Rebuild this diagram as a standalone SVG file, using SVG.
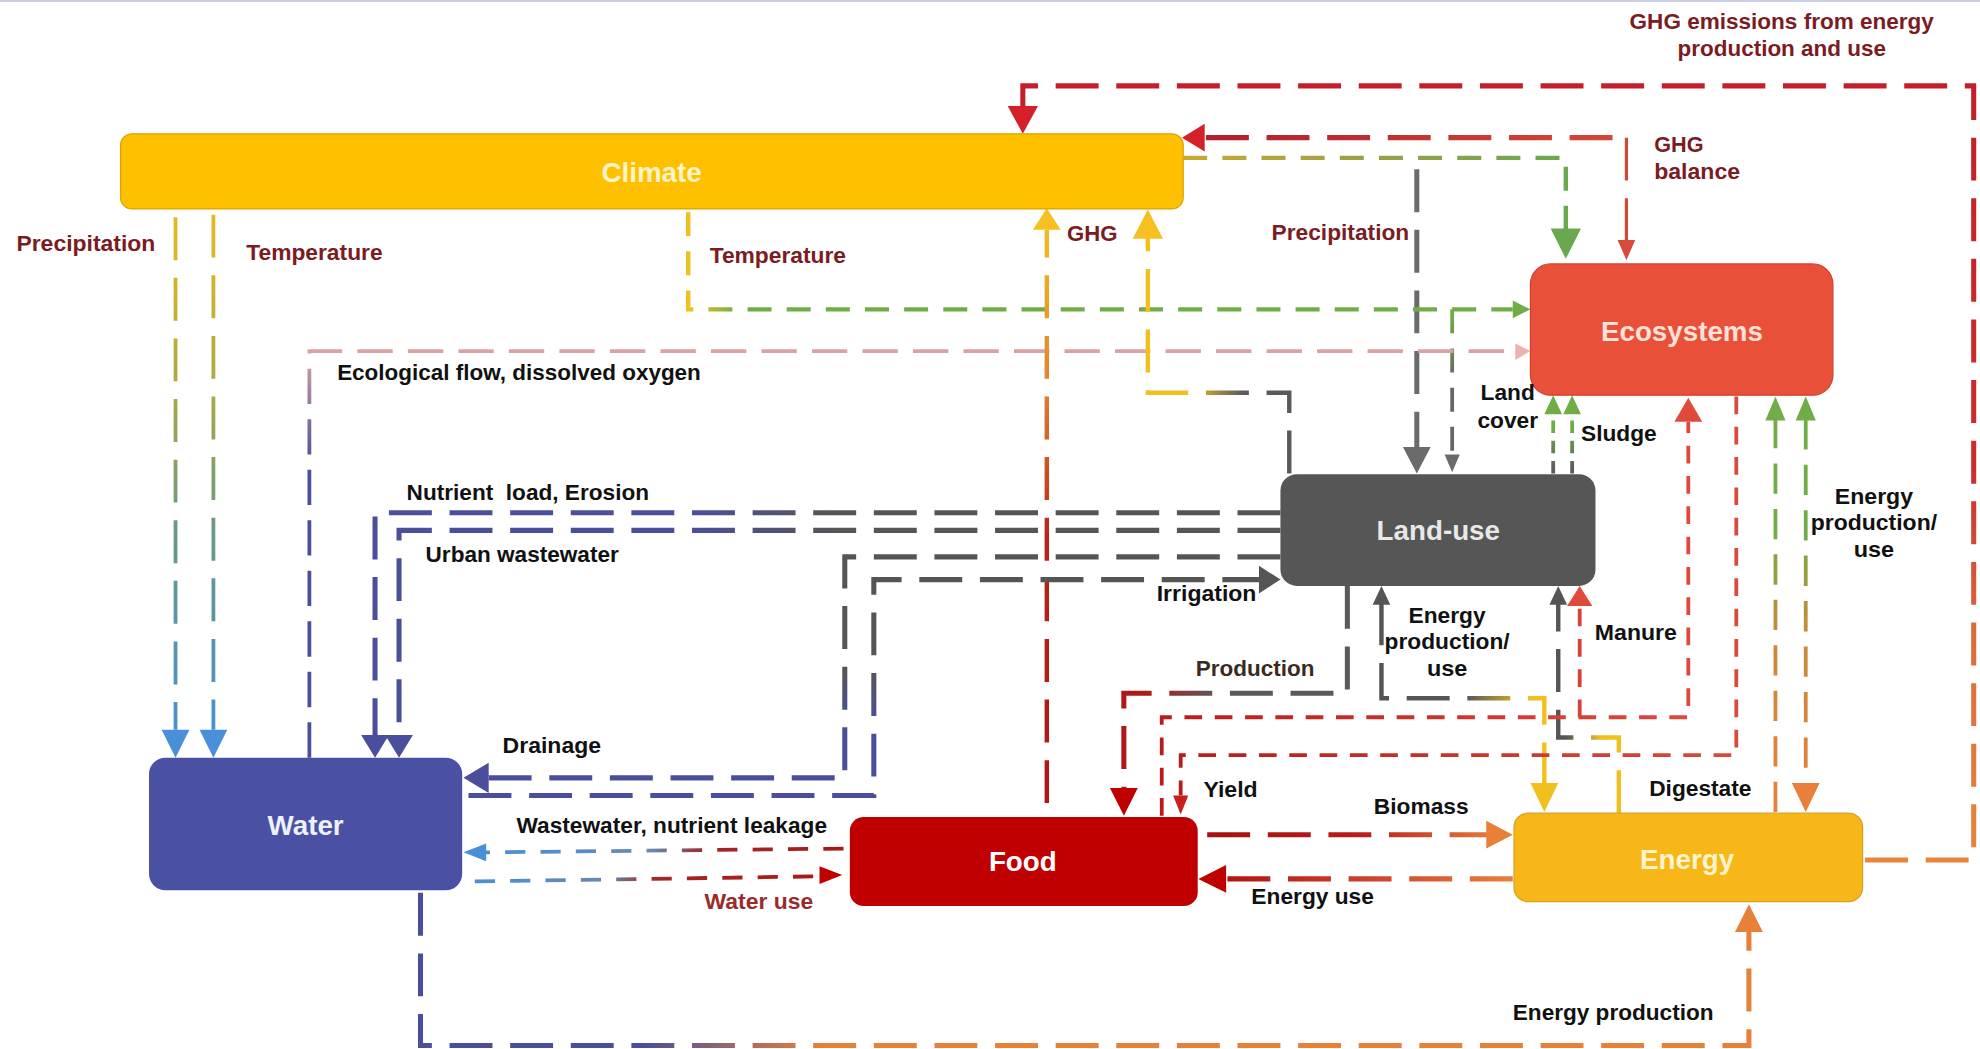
<svg xmlns="http://www.w3.org/2000/svg" width="1980" height="1049" viewBox="0 0 1980 1049">
<style>
.c{fill:none}
.w4{stroke-width:4}.w35{stroke-width:3.5}.w3{stroke-width:3}.w25{stroke-width:2.5}
.d1{stroke-dasharray:34 14}.d2{stroke-dasharray:19 12}.d3{stroke-dasharray:28 12}.d4{stroke-dasharray:10 6}.d5{stroke-dasharray:14 10}.d6{stroke-dasharray:16 12}.d7{stroke-dasharray:24 12}
.l{font-family:"Liberation Sans",Arial,sans-serif;font-weight:bold;font-size:17.5px;fill:#111}
.r{fill:#7b1b22}.br{fill:#3a2a22}.wr{fill:#9b2b2b}
.m{text-anchor:middle}
.n{font-family:"Liberation Sans",Arial,sans-serif;font-weight:bold;font-size:22px;text-anchor:middle}
</style>
<defs>
<linearGradient id="gEmis" gradientUnits="userSpaceOnUse" x1="0" y1="68" x2="0" y2="681"><stop offset="0" stop-color="#c41e2a"/><stop offset=".5" stop-color="#cc2e2e"/><stop offset=".7" stop-color="#dc6a3a"/><stop offset="1" stop-color="#e8853c"/></linearGradient>
<linearGradient id="gBal" gradientUnits="userSpaceOnUse" x1="937" y1="0" x2="1288" y2="0"><stop offset="0" stop-color="#b01c2c"/><stop offset="1" stop-color="#d44838"/></linearGradient>
<linearGradient id="gCE" gradientUnits="userSpaceOnUse" x1="937" y1="0" x2="1240" y2="0"><stop offset="0" stop-color="#c8aa30"/><stop offset=".5" stop-color="#9aa048"/><stop offset="1" stop-color="#6aa84f"/></linearGradient>
<linearGradient id="gTemp" gradientUnits="userSpaceOnUse" x1="545" y1="0" x2="585" y2="0"><stop offset="0" stop-color="#f2c01e"/><stop offset="1" stop-color="#70ad47"/></linearGradient>
<linearGradient id="gBr" gradientUnits="userSpaceOnUse" x1="0" y1="250" x2="0" y2="300"><stop offset="0" stop-color="#70ad47"/><stop offset="1" stop-color="#666"/></linearGradient>
<linearGradient id="gEco" gradientUnits="userSpaceOnUse" x1="0" y1="600" x2="0" y2="278"><stop offset="0" stop-color="#4b4f9b"/><stop offset=".72" stop-color="#4b4f9b"/><stop offset="1" stop-color="#d9a3a3"/></linearGradient>
<linearGradient id="gCW" gradientUnits="userSpaceOnUse" x1="0" y1="170" x2="0" y2="580"><stop offset="0" stop-color="#e8b820"/><stop offset=".35" stop-color="#a8a848"/><stop offset=".6" stop-color="#6a9a80"/><stop offset="1" stop-color="#4a90d0"/></linearGradient>
<linearGradient id="gG1" gradientUnits="userSpaceOnUse" x1="0" y1="636" x2="0" y2="170"><stop offset="0" stop-color="#b01414"/><stop offset=".45" stop-color="#b82418"/><stop offset=".7" stop-color="#e08030"/><stop offset="1" stop-color="#f5c020"/></linearGradient>
<linearGradient id="gG2" gradientUnits="userSpaceOnUse" x1="940" y1="0" x2="985" y2="0"><stop offset="0" stop-color="#f2c01e"/><stop offset="1" stop-color="#5a5a5a"/></linearGradient>
<linearGradient id="gLC" gradientUnits="userSpaceOnUse" x1="0" y1="372" x2="0" y2="340"><stop offset="0" stop-color="#5a5a5a"/><stop offset="1" stop-color="#70ad47"/></linearGradient>
<linearGradient id="gNut" gradientUnits="userSpaceOnUse" x1="550" y1="0" x2="660" y2="0"><stop offset="0" stop-color="#4b4f9b"/><stop offset="1" stop-color="#555"/></linearGradient>
<linearGradient id="gDr" gradientUnits="userSpaceOnUse" x1="0" y1="530" x2="0" y2="570"><stop offset="0" stop-color="#555"/><stop offset="1" stop-color="#4b4f9b"/></linearGradient>
<linearGradient id="gProd" gradientUnits="userSpaceOnUse" x1="905" y1="0" x2="965" y2="0"><stop offset="0" stop-color="#b01818"/><stop offset="1" stop-color="#5a5a5a"/></linearGradient>
<linearGradient id="gEPU" gradientUnits="userSpaceOnUse" x1="1160" y1="0" x2="1212" y2="0"><stop offset="0" stop-color="#555"/><stop offset="1" stop-color="#f2c01e"/></linearGradient>
<linearGradient id="gDig" gradientUnits="userSpaceOnUse" x1="1240" y1="0" x2="1268" y2="0"><stop offset="0" stop-color="#555"/><stop offset="1" stop-color="#f2c01e"/></linearGradient>
<linearGradient id="gMan" gradientUnits="userSpaceOnUse" x1="919" y1="0" x2="1337" y2="0"><stop offset="0" stop-color="#b81c1c"/><stop offset="1" stop-color="#e0483c"/></linearGradient>
<linearGradient id="gYld" gradientUnits="userSpaceOnUse" x1="935" y1="0" x2="1375" y2="0"><stop offset="0" stop-color="#b81c1c"/><stop offset="1" stop-color="#d84a3c"/></linearGradient>
<linearGradient id="gBio" gradientUnits="userSpaceOnUse" x1="960" y1="0" x2="1190" y2="0"><stop offset="0" stop-color="#a81010"/><stop offset=".5" stop-color="#b81c1c"/><stop offset="1" stop-color="#e8803a"/></linearGradient>
<linearGradient id="gEU" gradientUnits="userSpaceOnUse" x1="960" y1="0" x2="1198" y2="0"><stop offset="0" stop-color="#b01010"/><stop offset=".45" stop-color="#c83a2a"/><stop offset="1" stop-color="#e8803a"/></linearGradient>
<linearGradient id="gWW" gradientUnits="userSpaceOnUse" x1="390" y1="0" x2="670" y2="0"><stop offset="0" stop-color="#4a90d0"/><stop offset=".45" stop-color="#6a8ab0"/><stop offset=".6" stop-color="#a02828"/><stop offset="1" stop-color="#a81818"/></linearGradient>
<linearGradient id="gWU" gradientUnits="userSpaceOnUse" x1="380" y1="0" x2="660" y2="0"><stop offset="0" stop-color="#4a90d0"/><stop offset=".35" stop-color="#6a88b0"/><stop offset=".5" stop-color="#a02828"/><stop offset="1" stop-color="#b01414"/></linearGradient>
<linearGradient id="gEP" gradientUnits="userSpaceOnUse" x1="510" y1="0" x2="650" y2="0"><stop offset="0" stop-color="#4b4f9b"/><stop offset="1" stop-color="#e8803a"/></linearGradient>
<linearGradient id="gEE" gradientUnits="userSpaceOnUse" x1="0" y1="330" x2="0" y2="640"><stop offset="0" stop-color="#70ad47"/><stop offset=".3" stop-color="#70ad47"/><stop offset=".55" stop-color="#c88a3a"/><stop offset="1" stop-color="#e8803a"/></linearGradient>
</defs>
<rect x="0" y="0" width="1980" height="1049" fill="#ffffff"/>
<line x1="0" y1="1" x2="1980" y2="1" stroke="#ccd0e6" stroke-width="2"/>
<g transform="scale(1.262755)">
<g id="connectors">
<path class="c w4 d1" stroke="url(#gEmis)" d="M1477,681 H1563 V68 H810 V86"/>
<polygon fill="#d42028" points="798,84 822,84 810,106"/>
<path class="c w4 d1" stroke="url(#gBal)" d="M955,109 H1288"/>
<path class="c w25 d1" stroke="#d44838" d="M1288,109 V192"/>
<polygon fill="#d42028" points="936,109 954,98 954,120"/>
<polygon fill="#d84a3c" points="1281,190 1295,190 1288,206"/>
<path class="c w35 d2" stroke="url(#gCE)" d="M937,125 H1240 V183"/>
<polygon fill="#6aa84f" points="1228,181 1252,181 1240,205"/>
<path class="c w4 d1" stroke="#6b6b6b" d="M1122,134 V354"/>
<polygon fill="#6b6b6b" points="1111,354 1133,354 1122,375"/>
<path class="c w35 d2" stroke="url(#gTemp)" d="M545,168 V245 H1198"/>
<polygon fill="#70ad47" points="1198,238 1198,252 1212,245"/>
<path class="c w3 d2" stroke="url(#gBr)" d="M1150,245 V361"/>
<polygon fill="#6b6b6b" points="1144,360 1156,360 1150,374"/>
<path class="c w3 d3" stroke="url(#gEco)" d="M245,600 V278 H1200"/>
<polygon fill="#f0b0b0" points="1200,272 1200,285 1212,278"/>
<path class="c w3 d1" stroke="url(#gCW)" d="M139,172 V578"/>
<path class="c w3 d1" stroke="url(#gCW)" d="M169,170 V578"/>
<polygon fill="#4a90d9" points="128,578 150,578 139,600"/>
<polygon fill="#4a90d9" points="158,578 180,578 169,600"/>
<path class="c w35 d1" stroke="url(#gG1)" d="M829,636 V182"/>
<polygon fill="#f5c020" points="818,182 840,182 829,165"/>
<path class="c w35 d1" stroke="url(#gG2)" d="M1021,375 V311 H909 V188"/>
<polygon fill="#f5c020" points="897,189 921,189 909,166"/>
<path class="c w3 d4" stroke="url(#gLC)" d="M1230,375 V326"/>
<path class="c w3 d4" stroke="url(#gLC)" d="M1245,375 V326"/>
<polygon fill="#70ad47" points="1223,328 1237,328 1230,313"/>
<polygon fill="#70ad47" points="1238,328 1252,328 1245,313"/>
<path class="c w4 d1" stroke="url(#gNut)" d="M1014,406 H297 V583"/>
<polygon fill="#4b4f9b" points="286,582 308,582 297,600"/>
<path class="c w4 d1" stroke="url(#gNut)" d="M1014,420 H316 V583"/>
<polygon fill="#4b4f9b" points="305,582 327,582 316,600"/>
<path class="c w4 d1" stroke="url(#gDr)" d="M1014,441 H669 V616 H386"/>
<polygon fill="#4b4f9b" points="367,616 387,604 387,628"/>
<path class="c w4 d1" stroke="url(#gDr)" d="M371,630 H692 V459 H998"/>
<polygon fill="#555" points="1014,459 997,448 997,470"/>
<path class="c w4 d1" stroke="url(#gProd)" d="M1067,464 V549 H890 V624"/>
<polygon fill="#c00000" points="879,624 901,624 890,646"/>
<path class="c w35 d1" stroke="url(#gEPU)" d="M1223,622 V553 H1094 V478"/>
<polygon fill="#555" points="1087,479 1101,479 1094,464"/>
<polygon fill="#f2c01e" points="1212,620 1234,620 1223,643"/>
<path class="c w35 d1" stroke="url(#gDig)" d="M1282,644 V584 H1234 V478"/>
<polygon fill="#555" points="1227,479 1241,479 1234,464"/>
<path class="c w3 d5" stroke="url(#gMan)" d="M920,646 V568 H1337 V334"/>
<path class="c w3 d5" stroke="#d8403a" d="M1251,568 V480"/>
<polygon fill="#e04a3a" points="1241,480 1261,480 1251,464"/>
<polygon fill="#e04a3a" points="1326,334 1348,334 1337,315"/>
<path class="c w3 d5" stroke="url(#gYld)" d="M1375,314 V598 H935 V630"/>
<polygon fill="#c81e1e" points="929,630 941,630 935,645"/>
<path class="c w4 d1" stroke="url(#gBio)" d="M956,661 H1178"/>
<polygon fill="#e8803a" points="1198,661 1177,650 1177,672"/>
<path class="c w4 d1" stroke="url(#gEU)" d="M1198,696 H970"/>
<polygon fill="#c00000" points="949,696 971,685 971,707"/>
<path class="c w3 d6" stroke="url(#gWW)" d="M668,672 L384,675"/>
<polygon fill="#4a90d9" points="367,675 385,668 385,682"/>
<path class="c w3 d6" stroke="url(#gWU)" d="M376,698 L650,694"/>
<polygon fill="#c00000" points="667,693 649,686 649,700"/>
<path class="c w4 d1" stroke="url(#gEP)" d="M333,707 V828 H1385 V737"/>
<polygon fill="#e8803a" points="1374,738 1396,738 1385,716"/>
<path class="c w3 d7" stroke="url(#gEE)" d="M1406,643 V332"/>
<path class="c w3 d7" stroke="url(#gEE)" d="M1430,332 V620"/>
<polygon fill="#70ad47" points="1398,333 1414,333 1406,314"/>
<polygon fill="#70ad47" points="1422,333 1438,333 1430,314"/>
<polygon fill="#e8803a" points="1419,620 1441,620 1430,643"/>
</g>
<g id="climate">
<rect x="95.5" y="106" width="841.5" height="59.5" rx="9" fill="#ffc000" stroke="#d9a400" stroke-width="1"/>
<text class="n" x="516" y="144" fill="#fff3c8">Climate</text>
</g>
<g id="ecosystems">
<rect x="1212" y="209" width="239.5" height="104" rx="16" fill="#e8503a" stroke="#d0402e" stroke-width="1"/>
<text class="n" x="1332" y="270" fill="#fde0d8">Ecosystems</text>
</g>
<g id="land-use">
<rect x="1014" y="375.5" width="249.5" height="88.5" rx="13" fill="#565656"/>
<text class="n" x="1139" y="428" fill="#e8e8e8">Land-use</text>
</g>
<g id="water">
<rect x="118" y="600" width="248" height="105" rx="13" fill="#4a51a3"/>
<text class="n" x="242" y="661" fill="#eef0fb">Water</text>
</g>
<g id="food">
<rect x="673" y="647" width="275.5" height="70.5" rx="11" fill="#c00000"/>
<text class="n" x="810" y="690" fill="#ffffff">Food</text>
</g>
<g id="energy">
<rect x="1199" y="644" width="276" height="70" rx="11" fill="#f7b719" stroke="#d9a020" stroke-width="1"/>
<text class="n" x="1336" y="688" fill="#fff4cc">Energy</text>
</g>
<g id="labels">
<text class="l r m" x="1411" y="23" textLength="241" lengthAdjust="spacingAndGlyphs">GHG emissions from energy</text>
<text class="l r m" x="1411" y="44" textLength="165" lengthAdjust="spacingAndGlyphs">production and use</text>
<text class="l r" x="1310" y="120" textLength="39" lengthAdjust="spacingAndGlyphs">GHG</text>
<text class="l r" x="1310" y="142" textLength="68" lengthAdjust="spacingAndGlyphs">balance</text>
<text class="l r" x="13" y="199" textLength="110" lengthAdjust="spacingAndGlyphs">Precipitation</text>
<text class="l r" x="195" y="206" textLength="108" lengthAdjust="spacingAndGlyphs">Temperature</text>
<text class="l r" x="562" y="208" textLength="108" lengthAdjust="spacingAndGlyphs">Temperature</text>
<text class="l r" x="845" y="191" textLength="40" lengthAdjust="spacingAndGlyphs">GHG</text>
<text class="l r" x="1007" y="190" textLength="109" lengthAdjust="spacingAndGlyphs">Precipitation</text>
<text class="l" x="267" y="301" textLength="288" lengthAdjust="spacingAndGlyphs">Ecological flow, dissolved oxygen</text>
<text class="l m" x="1194" y="317" textLength="43" lengthAdjust="spacingAndGlyphs">Land</text>
<text class="l m" x="1194" y="339" textLength="48" lengthAdjust="spacingAndGlyphs">cover</text>
<text class="l" x="1252" y="349" textLength="60" lengthAdjust="spacingAndGlyphs">Sludge</text>
<text class="l" x="322" y="396" textLength="192" lengthAdjust="spacingAndGlyphs" style="white-space:pre">Nutrient  load, Erosion</text>
<text class="l" x="337" y="445" textLength="153" lengthAdjust="spacingAndGlyphs">Urban wastewater</text>
<text class="l" x="916" y="476" textLength="79" lengthAdjust="spacingAndGlyphs">Irrigation</text>
<text class="l m" x="1146" y="493" textLength="61" lengthAdjust="spacingAndGlyphs">Energy</text>
<text class="l m" x="1146" y="514" textLength="99" lengthAdjust="spacingAndGlyphs">production/</text>
<text class="l m" x="1146" y="535" textLength="32" lengthAdjust="spacingAndGlyphs">use</text>
<text class="l" x="1263" y="507" textLength="65" lengthAdjust="spacingAndGlyphs">Manure</text>
<text class="l m" x="1484" y="399" textLength="62" lengthAdjust="spacingAndGlyphs">Energy</text>
<text class="l m" x="1484" y="420" textLength="100" lengthAdjust="spacingAndGlyphs">production/</text>
<text class="l m" x="1484" y="441" textLength="32" lengthAdjust="spacingAndGlyphs">use</text>
<text class="l br" x="947" y="535" textLength="94" lengthAdjust="spacingAndGlyphs">Production</text>
<text class="l" x="398" y="596" textLength="78" lengthAdjust="spacingAndGlyphs">Drainage</text>
<text class="l" x="953" y="631" textLength="43" lengthAdjust="spacingAndGlyphs">Yield</text>
<text class="l" x="1306" y="630" textLength="81" lengthAdjust="spacingAndGlyphs">Digestate</text>
<text class="l" x="1088" y="645" textLength="75" lengthAdjust="spacingAndGlyphs">Biomass</text>
<text class="l" x="409" y="660" textLength="246" lengthAdjust="spacingAndGlyphs">Wastewater, nutrient leakage</text>
<text class="l wr" x="558" y="720" textLength="86" lengthAdjust="spacingAndGlyphs">Water use</text>
<text class="l" x="991" y="716" textLength="97" lengthAdjust="spacingAndGlyphs">Energy use</text>
<text class="l" x="1198" y="808" textLength="159" lengthAdjust="spacingAndGlyphs">Energy production</text>
</g>
</g>
</svg>
